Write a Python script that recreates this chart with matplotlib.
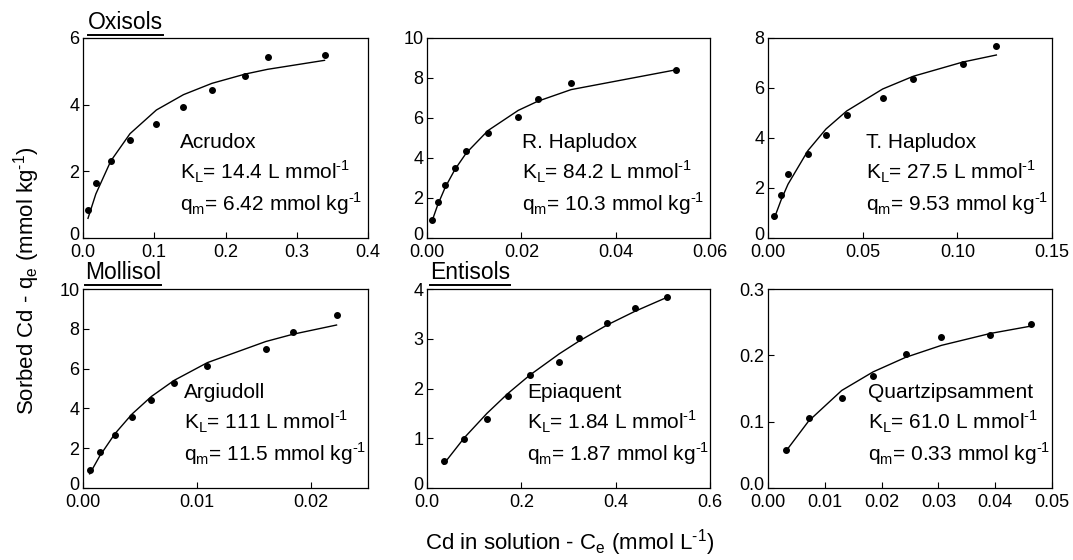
import matplotlib
matplotlib.use("Agg")
import matplotlib.pyplot as plt
from matplotlib.lines import Line2D
from matplotlib.transforms import ScaledTranslation

plt.rcParams['font.family'] = ['Liberation Sans', 'DejaVu Sans']
plt.rcParams['mathtext.fontset'] = 'custom'
plt.rcParams['mathtext.rm'] = 'Liberation Sans'

# soil names and fit parameters
soil_names = ["Acrudox", "R. Hapludox", "T. Hapludox", "Argiudoll", "Epiaquent", "Quartzipsamment"]
kl_labels = ["14.4", "84.2", "27.5", "111", "1.84", "61.0"]
qm_labels = ["6.42", "10.3", "9.53", "11.5", "1.87", "0.33"]

# measured points (Ce, qe) and fitted line values
acrudox_ce = [0.007, 0.018, 0.039, 0.066, 0.103, 0.141, 0.181, 0.228, 0.259, 0.339]
acrudox_qe = [0.85, 1.65, 2.32, 2.93, 3.43, 3.94, 4.43, 4.86, 5.42, 5.50]
acrudox_fit = [0.59, 1.32, 2.31, 3.13, 3.84, 4.30, 4.64, 4.92, 5.06, 5.33]

rhap_ce = [0.00106, 0.00226, 0.00388, 0.00593, 0.00833, 0.01292, 0.01934, 0.02351, 0.03056, 0.0528]
rhap_qe = [0.90, 1.79, 2.66, 3.52, 4.37, 5.23, 6.05, 6.93, 7.74, 8.39]
rhap_fit = [0.84, 1.65, 2.54, 3.43, 4.25, 5.37, 6.38, 6.84, 7.42, 8.41]

thap_ce = [0.00317, 0.00687, 0.01056, 0.02113, 0.03063, 0.04155, 0.06056, 0.07676, 0.1030, 0.1206]
thap_qe = [0.87, 1.72, 2.58, 3.35, 4.14, 4.91, 5.62, 6.36, 6.97, 7.68]
thap_fit = [0.76, 1.51, 2.15, 3.50, 4.36, 5.08, 5.96, 6.47, 7.04, 7.32]

argi_ce = [0.00059, 0.00147, 0.00279, 0.00429, 0.0060, 0.0080, 0.01091, 0.01603, 0.01844, 0.02224]
argi_qe = [0.92, 1.81, 2.68, 3.55, 4.42, 5.28, 6.13, 6.97, 7.84, 8.69]
argi_fit = [0.71, 1.61, 2.72, 3.71, 4.60, 5.41, 6.30, 7.36, 7.73, 8.19]

epi_ce = [0.0353, 0.0791, 0.1271, 0.1715, 0.2181, 0.2809, 0.3219, 0.3826, 0.4405, 0.5082]
epi_qe = [0.54, 0.99, 1.39, 1.85, 2.27, 2.53, 3.02, 3.31, 3.62, 3.84]
epi_fit = [0.48, 1.01, 1.50, 1.90, 2.27, 2.70, 2.95, 3.28, 3.55, 3.83]

quartz_ce = [0.00311, 0.00716, 0.01297, 0.01849, 0.02424, 0.03052, 0.03915, 0.04625]
quartz_qe = [0.057, 0.106, 0.136, 0.169, 0.202, 0.228, 0.230, 0.247]
quartz_fit = [0.055, 0.101, 0.147, 0.175, 0.197, 0.215, 0.233, 0.244]

# axis ticks
xticks_list = [[0.0, 0.1, 0.2, 0.3, 0.4], [0.0, 0.02, 0.04, 0.06], [0.0, 0.05, 0.10, 0.15],
               [0.0, 0.01, 0.02], [0.0, 0.2, 0.4, 0.6], [0.0, 0.01, 0.02, 0.03, 0.04, 0.05]]
xlims = [0.4, 0.06, 0.15, 0.025, 0.6, 0.05]
x_fmt = ["{:.1f}", "{:.2f}", "{:.2f}", "{:.2f}", "{:.1f}", "{:.2f}"]
yticks_list = [[0, 2, 4, 6], [0, 2, 4, 6, 8, 10], [0, 2, 4, 6, 8],
               [0, 2, 4, 6, 8, 10], [0, 1, 2, 3, 4], [0.0, 0.1, 0.2, 0.3]]
y_fmt = ["{:.0f}", "{:.0f}", "{:.0f}", "{:.0f}", "{:.0f}", "{:.1f}"]

group_titles = ["Oxisols", "Mollisol", "Entisols"]

HY = '\u2010'  # plain hyphen for the "-1" exponents
SUP = r'$^{\mathregular{' + HY + '1}}$'

W, H = 1073, 560
fig = plt.figure(figsize=(W / 100, H / 100), dpi=100)

# pixel boxes (left, top, right, bottom)
boxes = [(83, 38, 368, 238), (427, 38, 710, 238), (768, 38, 1052, 238),
         (83, 289, 368, 488), (427, 289, 710, 488), (768, 289, 1052, 488)]

data = [(acrudox_ce, acrudox_qe, acrudox_fit), (rhap_ce, rhap_qe, rhap_fit),
        (thap_ce, thap_qe, thap_fit), (argi_ce, argi_qe, argi_fit),
        (epi_ce, epi_qe, epi_fit), (quartz_ce, quartz_qe, quartz_fit)]

text_x = [0.34, 0.335, 0.344, 0.355, 0.355, 0.352]

axes = []
for i in range(6):
    l, t, r, b = boxes[i]
    ax = fig.add_axes([l / W, (H - b) / H, (r - l) / W, (b - t) / H])
    ce, qe, fit = data[i]
    ax.plot(ce, fit, color='black', linewidth=1.0)
    ax.plot(ce, qe, 'o', color='black', markersize=4)
    ax.set_xlim(0, xlims[i])
    ax.set_ylim(yticks_list[i][0], yticks_list[i][-1])
    ax.set_xticks(xticks_list[i])
    ax.set_xticklabels([x_fmt[i].format(v) for v in xticks_list[i]])
    ax.set_yticks(yticks_list[i])
    ax.set_yticklabels([y_fmt[i].format(v) for v in yticks_list[i]])
    ax.tick_params(direction='in', length=4, width=0.8, labelsize=13)
    ax.tick_params(axis='x', pad=4.5)
    ax.tick_params(axis='y', pad=2.5)
    # bottom y label sits a little higher, clear of the x labels
    lab0 = ax.get_yticklabels()[0]
    lab0.set_transform(lab0.get_transform() + ScaledTranslation(0, 0.04, fig.dpi_scale_trans))
    for s in ax.spines.values():
        s.set_linewidth(0.9)
    ax.text(text_x[i], 0.48, soil_names[i], transform=ax.transAxes, fontsize=15, va='center')
    ax.text(text_x[i], 0.33, r'K$_\mathregular{L}$= ' + kl_labels[i] + ' L mmol' + SUP,
            transform=ax.transAxes, fontsize=15, va='center')
    ax.text(text_x[i], 0.17, r'q$_\mathregular{m}$= ' + qm_labels[i] + ' mmol kg' + SUP,
            transform=ax.transAxes, fontsize=15, va='center')
    axes.append(ax)

# underlined group titles
title_pos = [(88, 29), (85, 279), (430, 279)]
title_objs = []
for name, (px, py) in zip(group_titles, title_pos):
    tt = fig.text(px / W, (H - py) / H, name, fontsize=16.5, ha='left', va='baseline')
    title_objs.append(tt)

fig.text(27 / W, (H - 281) / H, r'Sorbed Cd - q$_\mathregular{e}$ (mmol kg' + SUP + ')',
         rotation=90, fontsize=16, ha='center', va='center')
fig.text(570 / W, (H - 543) / H, r'Cd in solution - C$_\mathregular{e}$ (mmol L' + SUP + ')',
         fontsize=16, ha='center', va='center')

fig.canvas.draw()
renderer = fig.canvas.get_renderer()
for tt in title_objs:
    bb = tt.get_window_extent(renderer)
    y = (bb.y0 - 1) / H
    fig.add_artist(Line2D([bb.x0 / W, bb.x1 / W], [y, y], color='black', linewidth=1.4))

fig.savefig("out.png", dpi=100)
